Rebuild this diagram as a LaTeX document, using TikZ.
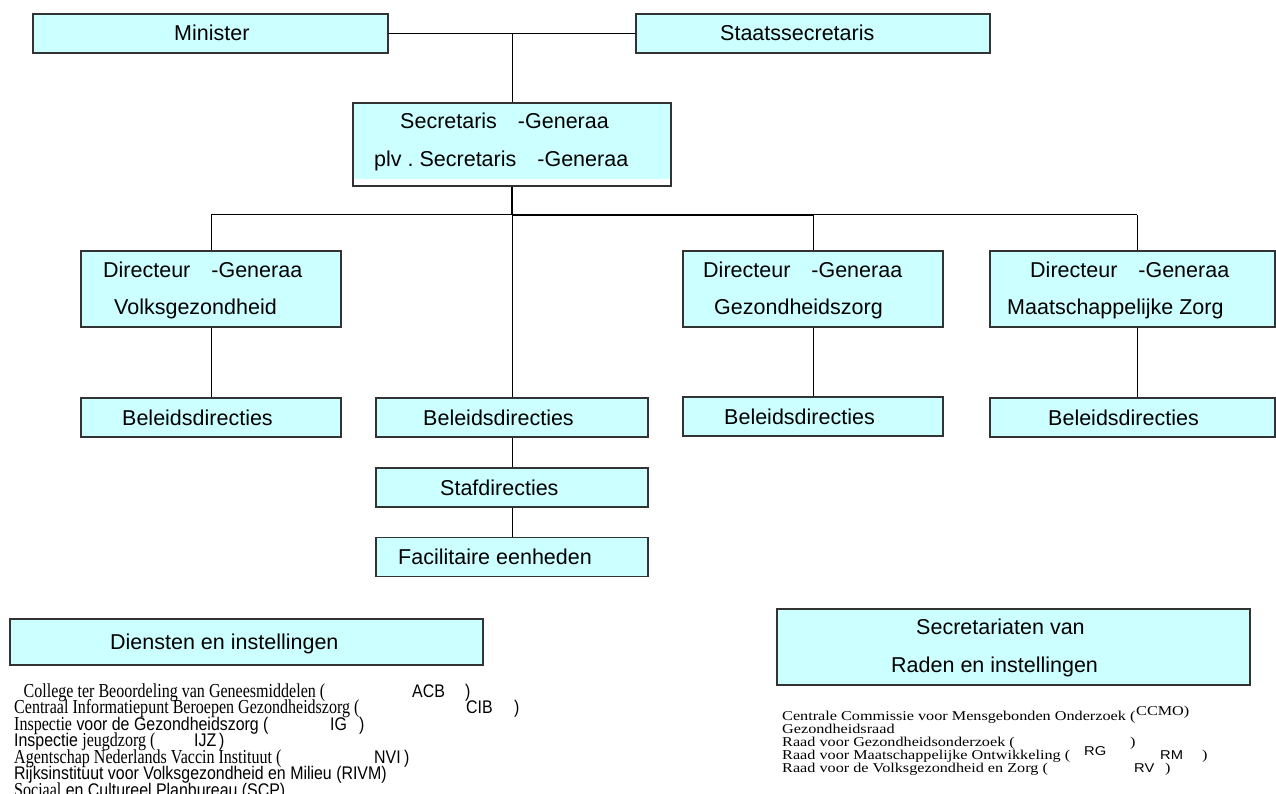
\documentclass[tikz,border=0pt]{standalone}
\usepackage{fontspec}
\setmainfont{Liberation Sans}
\newfontfamily\tnrL[FakeStretch=0.81]{Liberation Serif}
\newfontfamily\sansL[FakeStretch=0.87]{Liberation Sans}
\newfontfamily\tnrR[FakeStretch=1.2]{Liberation Serif}
\newfontfamily\sansR[FakeStretch=1.15]{Liberation Sans}
\newcommand{\tnrl}{\tnrL\fontsize{19.8}{19.8}\selectfont}
\newcommand{\sansl}{\sansL\fontsize{18.3}{18.3}\selectfont}
\newcommand{\tnrr}{\tnrR\fontsize{13.5}{13.5}\selectfont}
\newcommand{\sansr}{\sansR\fontsize{12.8}{12.8}\selectfont}
\definecolor{boxfill}{HTML}{CCFFFF}
\definecolor{boxline}{HTML}{333333}
\tikzset{
  orgbox/.style={draw=boxline, line width=1.2pt, fill=boxfill, inner sep=0pt, minimum height=39pt},
  link/.style={draw=black, line width=1pt},
  boldlink/.style={draw=black, line width=2pt},
  lbl/.style={anchor=base west, inner sep=0pt, font=\fontsize{21.5}{24}\selectfont},
  lstl/.style={anchor=base west, inner sep=0pt, font=\sansl},
  lstr/.style={anchor=base west, inner sep=0pt, font=\sansr},
}
\begin{document}
\begin{tikzpicture}[x=1pt,y=-1pt]
\useasboundingbox (0,0) rectangle (1276,794);
% top boxes
\node[orgbox, minimum width=355pt] (min) at (210.5,33.5) {};
\node[orgbox, minimum width=354pt] (sts) at (813,33.5) {};
\node[lbl] (tmin) at (174,41) {Minister};
\node[lbl] (tsts) at (720,41) {Staatssecretaris};
% secretaris-generaal
\fill[boxfill] (353,103) rectangle (671,179);
\node[orgbox, fill=none, minimum width=318pt, minimum height=83pt] (sg) at (512,144.5) {};
\node[lbl] (tsg1) at (400,129) {Secretaris\hspace{21pt}-Generaa};
\node[lbl] (tsg2) at (374,167) {plv~.\hspace{6pt}Secretaris\hspace{21pt}-Generaa};
% directeuren-generaal
\node[orgbox, minimum width=260pt, minimum height=76pt] (dg1) at (211,289) {};
\node[orgbox, minimum width=260pt, minimum height=76pt] (dg2) at (813,289) {};
\node[orgbox, minimum width=285pt, minimum height=76pt] (dg3) at (1132.5,289) {};
\node[lbl] (tdg1a) at (103,277) {Directeur\hspace{21pt}-Generaa};
\node[lbl] (tdg1b) at (114,314) {Volksgezondheid};
\node[lbl] (tdg2a) at (703,277) {Directeur\hspace{21pt}-Generaa};
\node[lbl] (tdg2b) at (714,314) {Gezondheidszorg};
\node[lbl] (tdg3a) at (1030,277) {Directeur\hspace{21pt}-Generaa};
\node[lbl] (tdg3b) at (1007,314) {Maatschappelijke Zorg};
% beleidsdirecties
\node[orgbox, minimum width=260pt] (bd1) at (211,417.5) {};
\node[orgbox, minimum width=272pt] (bd2) at (512,417.5) {};
\node[orgbox, minimum width=260pt] (bd3) at (813,416.5) {};
\node[orgbox, minimum width=285pt] (bd4) at (1132.5,417.5) {};
\node[orgbox, minimum width=272pt] (staf) at (512,487.5) {};
\node[orgbox, minimum width=272pt] (fac) at (512,557) {};
\node[lbl] (tbd1) at (122,425) {Beleidsdirecties};
\node[lbl] (tbd2) at (423,425) {Beleidsdirecties};
\node[lbl] (tbd3) at (724,424) {Beleidsdirecties};
\node[lbl] (tbd4) at (1048,425) {Beleidsdirecties};
\node[lbl] (tstaf) at (440,495) {Stafdirecties};
\node[lbl] (tfac) at (398,564) {Facilitaire eenheden};
% connectors
\coordinate (j1) at (512,33.5);
\coordinate (bus) at (512,215);
\coordinate (b2) at (813,215);
\coordinate (b3) at (1137,215);
\draw[link] (min) -- (sts);
\draw[link] (j1) -- (sg.north);
\draw[boldlink] (sg.south) -- (bus);
\draw[link] (dg1.north |- bus) -- (bus);
\draw[boldlink] (bus) -- (b2);
\draw[link] (b2) -- (b3);
\draw[link] (dg1.north |- bus) -- (dg1.north);
\draw[link] (b2) -- (dg2.north);
\draw[link] (b3) -- (b3 |- dg3.north);
\draw[link] (bus) -- (bd2.north);
\draw[link] (dg1.south) -- (bd1.north);
\draw[link] (dg2.south) -- (bd3.north);
\draw[link] (b3 |- dg3.south) -- (b3 |- bd4.north);
\draw[link] (bd2.south) -- (staf.north);
\draw[link] (staf.south) -- (fac.north);
% diensten en instellingen
\node[orgbox, minimum width=473pt, minimum height=46pt] (dien) at (246.5,642) {};
\node[lbl] (tdien) at (110,649.5) {Diensten en instellingen};
\node[lstl] (l1a) at (23.5,697) {\tnrl College ter Beoordeling van Geneesmiddelen (};
\node[lstl] (l1b) at (412,697) {ACB};
\node[lstl] (l1c) at (465,697) {)};
\node[lstl] (l2a) at (14,713.5) {\tnrl Centraal Informatiepunt Beroepen Gezondheidszorg (};
\node[lstl] (l2b) at (466,713.5) {CIB};
\node[lstl] (l2c) at (514,713.5) {)};
\node[lstl] (l3a) at (14,730) {{\tnrl Inspectie} voor de Gezondheidszorg (};
\node[lstl] (l3b) at (330,730) {IG};
\node[lstl] (l3c) at (359,730) {)};
\node[lstl] (l4a) at (14,746.5) {Inspectie {\tnrl jeugdzorg (}};
\node[lstl] (l4b) at (194,746.5) {IJZ};
\node[lstl] (l4c) at (219,746.5) {)};
\node[lstl] (l5a) at (14,763) {\tnrl Agentschap Nederlands Vaccin Instituut (};
\node[lstl] (l5b) at (374,763) {NVI};
\node[lstl] (l5c) at (404,763) {)};
\node[lstl] (l6) at (14,779.5) {Rijksinstituut voor Volksgezondheid en Milieu (RIVM)};
\node[lstl] (l7) at (14,796) {{\tnrl Sociaal} en Cultureel Planbureau (SCP)};
% secretariaten
\node[orgbox, minimum width=473pt, minimum height=76pt] (sec) at (1013.5,647) {};
\node[lbl] (tsec1) at (916,634.5) {Secretariaten van};
\node[lbl] (tsec2) at (891,672.5) {Raden en instellingen};
\node[lstr] (r1a) at (782,720) {\tnrr Centrale Commissie voor Mensgebonden Onderzoek (};
\node[lstr] (r1b) at (1136,715.5) {\tnrr CCMO)};
\node[lstr] (r2) at (782,733) {\tnrr Gezondheidsraad};
\node[lstr] (r3a) at (782,746) {\tnrr Raad voor Gezondheidsonderzoek (};
\node[lstr] (r3b) at (1084,755) {RG};
\node[lstr] (r3c) at (1130,746) {\tnrr )};
\node[lstr] (r4a) at (782,759) {\tnrr Raad voor Maatschappelijke Ontwikkeling (};
\node[lstr] (r4b) at (1160,759) {RM};
\node[lstr] (r4c) at (1202,759) {\tnrr )};
\node[lstr] (r5a) at (782,772) {\tnrr Raad voor de Volksgezondheid en Zorg (};
\node[lstr] (r5b) at (1134,772) {RV};
\node[lstr] (r5c) at (1165,772) {\tnrr )};
\end{tikzpicture}
\end{document}
